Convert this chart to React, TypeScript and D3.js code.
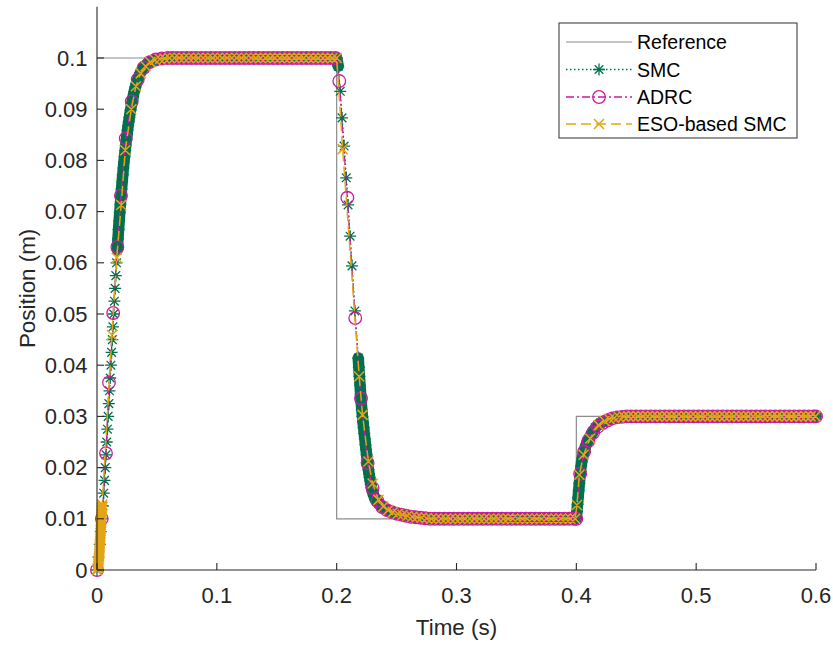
import React from "react";
import * as d3 from "d3";

// ---------- data ----------
const X_TICKS = [0, 0.1, 0.2, 0.3, 0.4, 0.5, 0.6];
const X_TICK_LABELS = ["0", "0.1", "0.2", "0.3", "0.4", "0.5", "0.6"];
const Y_TICKS = [0, 0.01, 0.02, 0.03, 0.04, 0.05, 0.06, 0.07, 0.08, 0.09, 0.1];
const Y_TICK_LABELS = ["0", "0.01", "0.02", "0.03", "0.04", "0.05", "0.06", "0.07", "0.08", "0.09", "0.1"];

const SERIES_NAMES = ["Reference", "SMC", "ADRC", "ESO-based SMC"];

const REF_T = [0, 0.2, 0.2, 0.4, 0.4, 0.6];
const REF_V = [0.1, 0.1, 0.01, 0.01, 0.03, 0.03];

const SMC_T = [
  0, 0.0012, 0.0023, 0.0032, 0.0042, 0.0049, 0.0056, 0.0063, 0.0069, 0.0075, 0.0081, 0.0087, 0.0093,
  0.0099, 0.0104, 0.011, 0.0116, 0.0122, 0.0128, 0.0133, 0.0139, 0.0145, 0.0151, 0.0157, 0.0163, 0.017,
  0.0175, 0.018, 0.0185, 0.019, 0.0195, 0.02, 0.0205, 0.021, 0.0215, 0.022, 0.0225, 0.023, 0.0235, 0.024,
  0.0245, 0.025, 0.0255, 0.026, 0.0265, 0.027, 0.0275, 0.028, 0.029, 0.03, 0.031, 0.032, 0.033, 0.034,
  0.035, 0.036, 0.038, 0.04, 0.043, 0.046, 0.05, 0.055, 0.06,
  0.065, 0.07, 0.075, 0.08, 0.085, 0.09, 0.095, 0.1, 0.105, 0.11, 0.115, 0.12, 0.125, 0.13, 0.135, 0.14,
  0.145, 0.15, 0.155, 0.16, 0.165, 0.17, 0.175, 0.18, 0.185, 0.19, 0.195, 0.2,
  0.2013, 0.203, 0.2045, 0.2062, 0.208, 0.2095, 0.2112, 0.2128, 0.2152, 0.218,
  0.2185, 0.219, 0.2195, 0.22, 0.2205, 0.221, 0.2215, 0.222, 0.2225, 0.223, 0.2235, 0.224, 0.2245, 0.225,
  0.2255, 0.226, 0.2265, 0.227, 0.2275, 0.228, 0.2285, 0.229, 0.23, 0.231, 0.232, 0.2335, 0.235, 0.237,
  0.239, 0.241, 0.244, 0.247, 0.25, 0.255, 0.26, 0.265, 0.27, 0.275, 0.28,
  0.285, 0.29, 0.295, 0.3, 0.305, 0.31, 0.315, 0.32, 0.325, 0.33, 0.335, 0.34, 0.345, 0.35, 0.355, 0.36,
  0.365, 0.37, 0.375, 0.38, 0.385, 0.39, 0.395, 0.4,
  0.4005, 0.401, 0.4015, 0.402, 0.4025, 0.403, 0.4035, 0.404, 0.4045, 0.405, 0.4055, 0.406, 0.407, 0.408,
  0.409, 0.41, 0.411, 0.412, 0.413, 0.414, 0.416, 0.418, 0.42, 0.423, 0.426, 0.43, 0.435, 0.44,
  0.445, 0.45, 0.455, 0.46, 0.465, 0.47, 0.475, 0.48, 0.485, 0.49, 0.495, 0.5, 0.505, 0.51, 0.515, 0.52,
  0.525, 0.53, 0.535, 0.54, 0.545, 0.55, 0.555, 0.56, 0.565, 0.57, 0.575, 0.58, 0.585, 0.59, 0.595, 0.6,
];
const SMC_V = [
  0, 0.0025, 0.005, 0.0075, 0.01, 0.0125, 0.015, 0.0175, 0.02, 0.0225, 0.025, 0.0275, 0.03,
  0.0325, 0.035, 0.0375, 0.04, 0.0425, 0.045, 0.0475, 0.05, 0.0525, 0.055, 0.0575, 0.06, 0.0625,
  0.0647, 0.0665, 0.0682, 0.0698, 0.0714, 0.073, 0.0744, 0.0758, 0.0772, 0.0785, 0.0797, 0.0808, 0.0819, 0.083,
  0.084, 0.085, 0.0859, 0.0868, 0.0876, 0.0884, 0.0891, 0.0898, 0.0911, 0.0923, 0.0934, 0.0943, 0.0951, 0.0958,
  0.0964, 0.097, 0.0979, 0.0985, 0.0991, 0.0995, 0.0997, 0.0999, 0.1,
  0.1, 0.1, 0.1, 0.1, 0.1, 0.1, 0.1, 0.1, 0.1, 0.1, 0.1, 0.1, 0.1, 0.1, 0.1, 0.1,
  0.1, 0.1, 0.1, 0.1, 0.1, 0.1, 0.1, 0.1, 0.1, 0.1, 0.1, 0.1,
  0.0984, 0.0935, 0.0883, 0.0828, 0.0766, 0.0713, 0.0652, 0.0594, 0.0506, 0.0414,
  0.0396, 0.0378, 0.0361, 0.0343, 0.0327, 0.0313, 0.03, 0.0289, 0.0278, 0.0267, 0.0256, 0.0245, 0.0235, 0.0225,
  0.0214, 0.0205, 0.0196, 0.0188, 0.0181, 0.0174, 0.0167, 0.0161, 0.0152, 0.0145, 0.0139, 0.0134, 0.013, 0.0125,
  0.0121, 0.0118, 0.0115, 0.0112, 0.011, 0.0107, 0.0105, 0.0104, 0.0102, 0.0101, 0.01,
  0.01, 0.01, 0.01, 0.01, 0.01, 0.01, 0.01, 0.01, 0.01, 0.01, 0.01, 0.01, 0.01, 0.01, 0.01, 0.01,
  0.01, 0.01, 0.01, 0.01, 0.01, 0.01, 0.01, 0.01,
  0.0114, 0.0128, 0.0142, 0.0155, 0.0169, 0.0182, 0.0193, 0.0203, 0.0211, 0.0218, 0.0223, 0.0228, 0.0236, 0.0244,
  0.0249, 0.0254, 0.0259, 0.0263, 0.0267, 0.0271, 0.0278, 0.0283, 0.0287, 0.0291, 0.0294, 0.0297, 0.0299, 0.03,
  0.03, 0.03, 0.03, 0.03, 0.03, 0.03, 0.03, 0.03, 0.03, 0.03, 0.03, 0.03, 0.03, 0.03, 0.03, 0.03,
  0.03, 0.03, 0.03, 0.03, 0.03, 0.03, 0.03, 0.03, 0.03, 0.03, 0.03, 0.03, 0.03, 0.03, 0.03, 0.03,
];

const ADRC_T = [
  0, 0.004, 0.0075, 0.01, 0.0135, 0.017, 0.02, 0.024, 0.029, 0.034, 0.039, 0.044, 0.049, 0.054, 0.059,
  0.063, 0.067, 0.071, 0.075, 0.079, 0.083, 0.087, 0.091, 0.095, 0.099, 0.103, 0.107, 0.111, 0.115, 0.119,
  0.123, 0.127, 0.131, 0.135, 0.139, 0.143, 0.147, 0.151, 0.155, 0.159, 0.163, 0.167, 0.171, 0.175, 0.179,
  0.183, 0.187, 0.191, 0.195, 0.199,
  0.2022, 0.2089, 0.2155, 0.2203, 0.2258, 0.23, 0.234, 0.238, 0.242, 0.246, 0.25, 0.254, 0.258, 0.262,
  0.266, 0.27, 0.274, 0.278,
  0.282, 0.286, 0.29, 0.294, 0.298, 0.302, 0.306, 0.31, 0.314, 0.318, 0.322, 0.326, 0.33, 0.334, 0.338,
  0.342, 0.346, 0.35, 0.354, 0.358, 0.362, 0.366, 0.37, 0.374, 0.378, 0.382, 0.386, 0.39, 0.394, 0.398,
  0.4, 0.4032, 0.4065, 0.41, 0.414, 0.418, 0.422, 0.426, 0.43, 0.434, 0.438, 0.442,
  0.446, 0.45, 0.454, 0.458, 0.462, 0.466, 0.47, 0.474, 0.478, 0.482, 0.486, 0.49, 0.494, 0.498, 0.502,
  0.506, 0.51, 0.514, 0.518, 0.522, 0.526, 0.53, 0.534, 0.538, 0.542, 0.546, 0.55, 0.554, 0.558, 0.562,
  0.566, 0.57, 0.574, 0.578, 0.582, 0.586, 0.59, 0.594, 0.598, 0.6,
];
const ADRC_V = [
  0, 0.01, 0.0228, 0.0366, 0.0502, 0.0631, 0.0731, 0.0843, 0.0915, 0.0958, 0.0981, 0.0992, 0.0997, 0.0999, 0.1,
  0.1, 0.1, 0.1, 0.1, 0.1, 0.1, 0.1, 0.1, 0.1, 0.1, 0.1, 0.1, 0.1, 0.1, 0.1,
  0.1, 0.1, 0.1, 0.1, 0.1, 0.1, 0.1, 0.1, 0.1, 0.1, 0.1, 0.1, 0.1, 0.1, 0.1,
  0.1, 0.1, 0.1, 0.1, 0.1,
  0.0955, 0.0727, 0.0492, 0.0335, 0.0209, 0.016, 0.0135, 0.0123, 0.0117, 0.0113, 0.011, 0.0108, 0.0106, 0.0104,
  0.0103, 0.0102, 0.0101, 0.01,
  0.01, 0.01, 0.01, 0.01, 0.01, 0.01, 0.01, 0.01, 0.01, 0.01, 0.01, 0.01, 0.01, 0.01, 0.01,
  0.01, 0.01, 0.01, 0.01, 0.01, 0.01, 0.01, 0.01, 0.01, 0.01, 0.01, 0.01, 0.01, 0.01, 0.01,
  0.01, 0.0188, 0.0231, 0.0252, 0.0268, 0.028, 0.0287, 0.0292, 0.0296, 0.0298, 0.0299, 0.03,
  0.03, 0.03, 0.03, 0.03, 0.03, 0.03, 0.03, 0.03, 0.03, 0.03, 0.03, 0.03, 0.03, 0.03, 0.03,
  0.03, 0.03, 0.03, 0.03, 0.03, 0.03, 0.03, 0.03, 0.03, 0.03, 0.03, 0.03, 0.03, 0.03, 0.03,
  0.03, 0.03, 0.03, 0.03, 0.03, 0.03, 0.03, 0.03, 0.03, 0.03,
];

const ESO_T = [
  0, 0.0006, 0.0009, 0.0011, 0.0013, 0.0015, 0.0016, 0.0018, 0.0019, 0.002, 0.0021, 0.0022, 0.0023, 0.0024,
  0.0025, 0.0026, 0.0027, 0.0028, 0.0029, 0.003, 0.0031, 0.0032, 0.0033, 0.0034, 0.0035, 0.0036, 0.0037,
  0.0038, 0.0039, 0.004, 0.0041, 0.0042, 0.0043,
  0.0125, 0.0165, 0.0202, 0.0236, 0.0286, 0.0325, 0.0365, 0.0405, 0.0445, 0.0485, 0.0525, 0.0565, 0.0605,
  0.0645, 0.0685, 0.0725, 0.0765, 0.0805, 0.0845, 0.0885, 0.0925, 0.0965, 0.1005, 0.1045, 0.1085, 0.1125,
  0.1165, 0.1205, 0.1245, 0.1285, 0.1325, 0.1365, 0.1405, 0.1445, 0.1485, 0.1525, 0.1565, 0.1605, 0.1645,
  0.1685, 0.1725, 0.1765, 0.1805, 0.1845, 0.1885, 0.1925, 0.1965,
  0.2, 0.205, 0.2188, 0.2216, 0.2265, 0.23, 0.2349, 0.239, 0.243, 0.247, 0.251, 0.255, 0.259, 0.263, 0.267,
  0.271, 0.275, 0.279,
  0.283, 0.287, 0.291, 0.295, 0.299, 0.303, 0.307, 0.311, 0.315, 0.319, 0.323, 0.327, 0.331, 0.335, 0.339,
  0.343, 0.347, 0.351, 0.355, 0.359, 0.363, 0.367, 0.371, 0.375, 0.379, 0.383, 0.387, 0.391, 0.395, 0.399,
  0.4005, 0.4025, 0.4061, 0.4116, 0.4186, 0.4235, 0.4275, 0.4315, 0.4355, 0.4395,
  0.4435, 0.4475, 0.4515, 0.4555, 0.4595, 0.4635, 0.4675, 0.4715, 0.4755, 0.4795, 0.4835, 0.4875, 0.4915,
  0.4955, 0.4995, 0.5035, 0.5075, 0.5115, 0.5155, 0.5195, 0.5235, 0.5275, 0.5315, 0.5355, 0.5395, 0.5435,
  0.5475, 0.5515, 0.5555, 0.5595, 0.5635, 0.5675, 0.5715, 0.5755, 0.5795, 0.5835, 0.5875, 0.5915, 0.5955, 0.5995,
];
const ESO_V = [
  0, 0.0004, 0.0008, 0.0012, 0.0016, 0.002, 0.0024, 0.0028, 0.0032, 0.0036, 0.004, 0.0044, 0.0048, 0.0052,
  0.0056, 0.006, 0.0064, 0.0068, 0.0072, 0.0076, 0.008, 0.0084, 0.0088, 0.0092, 0.0096, 0.01, 0.0104,
  0.0108, 0.0112, 0.0116, 0.012, 0.0124, 0.0128,
  0.0459, 0.061, 0.0713, 0.082, 0.09, 0.0945, 0.097, 0.0984, 0.0992, 0.0996, 0.0998, 0.0999, 0.1,
  0.1, 0.1, 0.1, 0.1, 0.1, 0.1, 0.1, 0.1, 0.1, 0.1, 0.1, 0.1, 0.1,
  0.1, 0.1, 0.1, 0.1, 0.1, 0.1, 0.1, 0.1, 0.1, 0.1, 0.1, 0.1, 0.1,
  0.1, 0.1, 0.1, 0.1, 0.1, 0.1, 0.1, 0.1,
  0.1, 0.0822, 0.0378, 0.0303, 0.0212, 0.0169, 0.0137, 0.0124, 0.0117, 0.0113, 0.011, 0.0108, 0.0106, 0.0104, 0.0103,
  0.0102, 0.0101, 0.01,
  0.01, 0.01, 0.01, 0.01, 0.01, 0.01, 0.01, 0.01, 0.01, 0.01, 0.01, 0.01, 0.01, 0.01, 0.01,
  0.01, 0.01, 0.01, 0.01, 0.01, 0.01, 0.01, 0.01, 0.01, 0.01, 0.01, 0.01, 0.01, 0.01, 0.01,
  0.0127, 0.0186, 0.0225, 0.0257, 0.0283, 0.0291, 0.0295, 0.0297, 0.0299, 0.03,
  0.03, 0.03, 0.03, 0.03, 0.03, 0.03, 0.03, 0.03, 0.03, 0.03, 0.03, 0.03, 0.03,
  0.03, 0.03, 0.03, 0.03, 0.03, 0.03, 0.03, 0.03, 0.03, 0.03, 0.03, 0.03, 0.03,
  0.03, 0.03, 0.03, 0.03, 0.03, 0.03, 0.03, 0.03, 0.03, 0.03, 0.03, 0.03, 0.03, 0.03,
];

// ---------- styles ----------
const W = 833;
const H = 647;
const PLOT = { left: 97, right: 816, top: 6.8, bottom: 570 };
const FONT = "'Liberation Sans', Arial, Helvetica, sans-serif";
const AXIS_COLOR = "#262626";
const C_REF = "#8c8c8c";
const C_SMC = "#00704f";
const C_ADRC = "#cc1aa0";
const C_ESO = "#e3a516";

type Pt = [number, number];

function zip(t: number[], v: number[]): Pt[] {
  return t.map((tt, i) => [tt, v[i]] as Pt);
}

function starPath(x: number, y: number, s: number) {
  const d = s * 0.72;
  return `M${x - s},${y}L${x + s},${y}M${x},${y - s}L${x},${y + s}M${x - d},${y - d}L${x + d},${y + d}M${x - d},${y + d}L${x + d},${y - d}`;
}
function xPath(x: number, y: number, s: number) {
  return `M${x - s},${y - s}L${x + s},${y + s}M${x - s},${y + s}L${x + s},${y - s}`;
}

export default function App() {
  const x = d3.scaleLinear().domain([0, 0.6]).range([PLOT.left, PLOT.right]);
  const y = d3.scaleLinear().domain([0, 0.11]).range([PLOT.bottom, PLOT.top]);
  const line = d3
    .line<Pt>()
    .x((d) => x(d[0]))
    .y((d) => y(d[1]));

  const ref = zip(REF_T, REF_V);
  const smc = zip(SMC_T, SMC_V);
  const adrc = zip(ADRC_T, ADRC_V);
  const eso = zip(ESO_T, ESO_V);

  // overlapping SMC markers: where consecutive markers are closer than the marker size they merge into a band
  const haloSegs: Pt[][] = [];
  let cur: Pt[] = [];
  for (let i = 1; i < smc.length; i++) {
    const dx = x(smc[i][0]) - x(smc[i - 1][0]);
    const dy = y(smc[i][1]) - y(smc[i - 1][1]);
    if (Math.hypot(dx, dy) < 11.5) {
      if (cur.length === 0) cur.push(smc[i - 1]);
      cur.push(smc[i]);
    } else if (cur.length) {
      haloSegs.push(cur);
      cur = [];
    }
  }
  if (cur.length) haloSegs.push(cur);

  const legendX = 559;
  const legendY = 23;
  const legendW = 238;
  const legendH = 115;
  const rowY = [42, 69.5, 97, 124];
  const sx0 = 566;
  const sx1 = 632;
  const smid = 599;

  return (
    <svg
      width={W}
      height={H}
      style={{ position: "absolute", left: 0, top: 0, background: "#fff" }}
      fontFamily={FONT}
    >
      <rect x={0} y={0} width={W} height={H} fill="#fff" />

      {/* reference */}
      <path d={line(ref) || ""} fill="none" stroke={C_REF} strokeWidth={1.2} />

      {/* SMC */}
      {haloSegs.map((seg, i) => (
        <path
          key={"h" + i}
          d={line(seg) || ""}
          fill="none"
          stroke={C_SMC}
          strokeWidth={11.5}
          strokeLinecap="round"
          strokeLinejoin="round"
        />
      ))}
      <path d={line(smc) || ""} fill="none" stroke={C_SMC} strokeWidth={1.4} strokeDasharray="1.5 2.5" />
      <path
        d={smc.map((d) => starPath(x(d[0]), y(d[1]), 6)).join("")}
        fill="none"
        stroke={C_SMC}
        strokeWidth={1.3}
      />

      {/* ADRC */}
      <path d={line(adrc) || ""} fill="none" stroke={C_ADRC} strokeWidth={1.3} strokeDasharray="8 3 2 3" />
      {adrc.map((d, i) => (
        <circle key={"c" + i} cx={x(d[0])} cy={y(d[1])} r={6.3} fill="none" stroke={C_ADRC} strokeWidth={1.3} />
      ))}

      {/* ESO-based SMC */}
      <path d={line(eso) || ""} fill="none" stroke={C_ESO} strokeWidth={1.5} strokeDasharray="10 5" />
      <path
        d={eso.map((d) => xPath(x(d[0]), y(d[1]), 5)).join("")}
        fill="none"
        stroke={C_ESO}
        strokeWidth={1.5}
      />

      {/* axes */}
      <line x1={PLOT.left} x2={PLOT.left} y1={PLOT.top} y2={PLOT.bottom} stroke={AXIS_COLOR} strokeWidth={1.1} />
      <line x1={PLOT.left} x2={PLOT.right} y1={PLOT.bottom} y2={PLOT.bottom} stroke={AXIS_COLOR} strokeWidth={1.1} />
      {Y_TICKS.map((t, i) => (
        <g key={"yt" + i}>
          <line x1={PLOT.left} x2={PLOT.left + 7} y1={y(t)} y2={y(t)} stroke={AXIS_COLOR} strokeWidth={1.1} />
          <text
            x={PLOT.left - 9.5}
            y={y(t)}
            textAnchor="end"
            dominantBaseline="central"
            fontSize={22}
            fill={AXIS_COLOR}
          >
            {Y_TICK_LABELS[i]}
          </text>
        </g>
      ))}
      {X_TICKS.map((t, i) => (
        <g key={"xt" + i}>
          <line x1={x(t)} x2={x(t)} y1={PLOT.bottom} y2={PLOT.bottom - 7} stroke={AXIS_COLOR} strokeWidth={1.1} />
          <text x={x(t)} y={603} textAnchor="middle" fontSize={22} fill={AXIS_COLOR}>
            {X_TICK_LABELS[i]}
          </text>
        </g>
      ))}
      <text x={(PLOT.left + PLOT.right) / 2} y={635} textAnchor="middle" fontSize={22.4} fill={AXIS_COLOR}>
        Time (s)
      </text>
      <text
        transform={`translate(35,${(PLOT.top + PLOT.bottom) / 2}) rotate(-90)`}
        textAnchor="middle"
        fontSize={22.4}
        fill={AXIS_COLOR}
      >
        Position (m)
      </text>

      {/* legend */}
      <rect x={legendX} y={legendY} width={legendW} height={legendH} fill="#fff" stroke="#404040" strokeWidth={1.1} />
      <line x1={sx0} x2={sx1} y1={rowY[0]} y2={rowY[0]} stroke={C_REF} strokeWidth={1.2} />
      <line x1={sx0} x2={sx1} y1={rowY[1]} y2={rowY[1]} stroke={C_SMC} strokeWidth={1.4} strokeDasharray="1.5 2.5" />
      <path d={starPath(smid, rowY[1], 6)} stroke={C_SMC} strokeWidth={1.3} fill="none" />
      <line x1={sx0} x2={sx1} y1={rowY[2]} y2={rowY[2]} stroke={C_ADRC} strokeWidth={1.3} strokeDasharray="8 3 2 3" />
      <circle cx={smid} cy={rowY[2]} r={6.3} fill="none" stroke={C_ADRC} strokeWidth={1.3} />
      <line x1={sx0} x2={sx1} y1={rowY[3]} y2={rowY[3]} stroke={C_ESO} strokeWidth={1.5} strokeDasharray="10 5" />
      <path d={xPath(smid, rowY[3], 5)} stroke={C_ESO} strokeWidth={1.5} fill="none" />
      {SERIES_NAMES.map((n, i) => (
        <text key={"lg" + i} x={637} y={rowY[i]} dominantBaseline="central" fontSize={19.5} fill="#000">
          {n}
        </text>
      ))}
    </svg>
  );
}
